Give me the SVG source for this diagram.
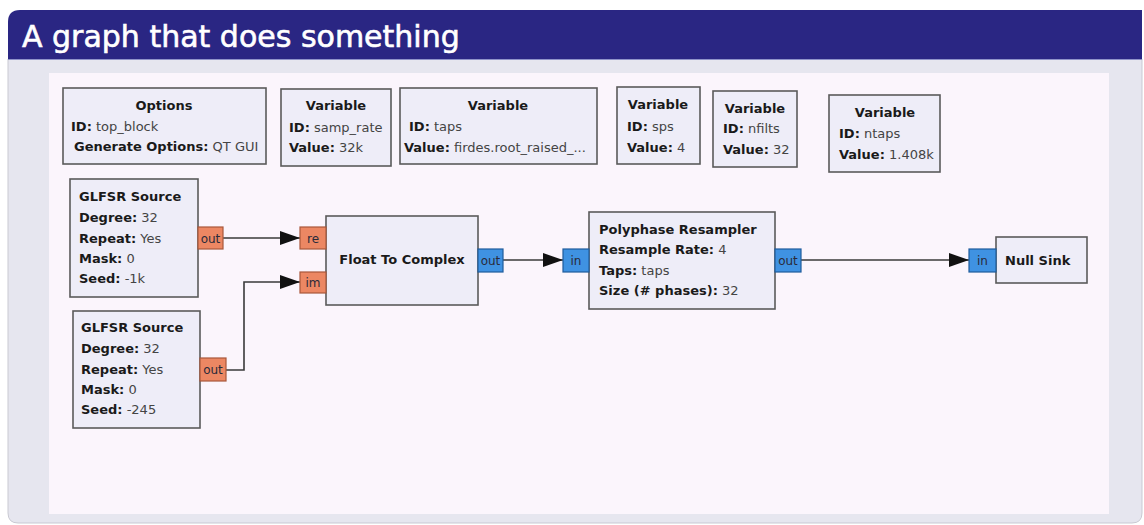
<svg xmlns="http://www.w3.org/2000/svg" width="1144" height="525" viewBox="0 0 1144 525">
  <defs>
    <style>
      .title { font-family: "DejaVu Sans", "Liberation Sans", sans-serif; font-size: 30px; fill: #ffffff; stroke: #ffffff; stroke-width: 0.6; }
      .blk { fill: #eeedf8; stroke: #5a5a5a; stroke-width: 1.6; }
      .t { font-family: "DejaVu Sans", "Liberation Sans", sans-serif; font-size: 13px; fill: #444444; }
      .b { font-weight: bold; fill: #1a1a1a; }
      .hd { font-weight: bold; fill: #1a1a1a; text-anchor: middle; }
      .pf { fill: #ec8763; stroke: #a9573b; stroke-width: 1.2; }
      .pc { fill: #3f92e2; stroke: #1f5c9c; stroke-width: 1.2; }
      .pt { font-family: "DejaVu Sans", "Liberation Sans", sans-serif; font-size: 12px; fill: #2a2a3a; text-anchor: middle; }
      .wire { fill: none; stroke: #3a3a3a; stroke-width: 1.6; }
    </style>
    <marker id="arrow" markerWidth="20" markerHeight="14" refX="20" refY="7" orient="auto" markerUnits="userSpaceOnUse">
      <path d="M0,0 L20,7 L0,14 Z" fill="#111111"/>
    </marker>
  </defs>

  <!-- page background and frame -->
  <rect x="0" y="0" width="1144" height="525" fill="#ffffff"/>
  <path d="M8,59 H1142 V513 Q1142,523 1132,523 H18 Q8,523 8,513 Z" fill="#e6e6ef" stroke="#c9c9d2" stroke-width="1"/>
  <rect x="49" y="73" width="1060" height="441" fill="#fbf5fc"/>

  <!-- title bar -->
  <path d="M8,59 V22 Q8,10 20,10 H1142 V59 Z" fill="#2a2683"/>
  <line x1="8" y1="59.5" x2="1142" y2="59.5" stroke="#8f93c9" stroke-width="1"/>
  <text class="title" x="22" y="47">A graph that does something</text>

  <!-- connectors -->
  <g id="connectors">
    <path class="wire" d="M223,238 H300" marker-end="url(#arrow)"/>
    <path class="wire" d="M226,370 H244 V282 H300" marker-end="url(#arrow)"/>
    <path class="wire" d="M503,260 H563" marker-end="url(#arrow)"/>
    <path class="wire" d="M801,260 H969" marker-end="url(#arrow)"/>
  </g>

  <!-- Options block -->
  <g id="options">
    <rect class="blk" x="63" y="88" width="203" height="76"/>
    <text class="t hd" x="164" y="110">Options</text>
    <text class="t" x="71" y="131"><tspan class="b">ID:</tspan> top_block</text>
    <text class="t" x="74" y="151"><tspan class="b">Generate Options:</tspan> QT GUI</text>
  </g>

  <!-- Variable blocks -->
  <g id="var_samp_rate">
    <rect class="blk" x="281" y="89" width="110" height="77"/>
    <text class="t hd" x="336" y="110">Variable</text>
    <text class="t" x="289" y="132"><tspan class="b">ID:</tspan> samp_rate</text>
    <text class="t" x="289" y="152"><tspan class="b">Value:</tspan> 32k</text>
  </g>

  <g id="var_taps">
    <rect class="blk" x="400" y="88" width="197" height="76"/>
    <text class="t hd" x="498" y="110">Variable</text>
    <text class="t" x="409" y="131"><tspan class="b">ID:</tspan> taps</text>
    <text class="t" x="404" y="152"><tspan class="b">Value:</tspan> firdes.root_raised_...</text>
  </g>

  <g id="var_sps">
    <rect class="blk" x="617" y="87" width="83" height="77"/>
    <text class="t hd" x="658" y="109">Variable</text>
    <text class="t" x="627" y="131"><tspan class="b">ID:</tspan> sps</text>
    <text class="t" x="627" y="152"><tspan class="b">Value:</tspan> 4</text>
  </g>

  <g id="var_nfilts">
    <rect class="blk" x="713" y="91" width="84" height="76"/>
    <text class="t hd" x="755" y="113">Variable</text>
    <text class="t" x="723" y="133"><tspan class="b">ID:</tspan> nfilts</text>
    <text class="t" x="723" y="154"><tspan class="b">Value:</tspan> 32</text>
  </g>

  <g id="var_ntaps">
    <rect class="blk" x="829" y="95" width="111" height="77"/>
    <text class="t hd" x="885" y="117">Variable</text>
    <text class="t" x="839" y="138"><tspan class="b">ID:</tspan> ntaps</text>
    <text class="t" x="839" y="159"><tspan class="b">Value:</tspan> 1.408k</text>
  </g>

  <!-- GLFSR sources -->
  <g id="glfsr_1">
    <rect class="blk" x="70" y="179" width="128" height="118"/>
    <text class="t b" x="79" y="201">GLFSR Source</text>
    <text class="t" x="79" y="222"><tspan class="b">Degree:</tspan> 32</text>
    <text class="t" x="79" y="243"><tspan class="b">Repeat:</tspan> Yes</text>
    <text class="t" x="79" y="263"><tspan class="b">Mask:</tspan> 0</text>
    <text class="t" x="79" y="283"><tspan class="b">Seed:</tspan> -1k</text>
    <rect class="pf" x="198" y="227" width="25" height="22"/>
    <text class="pt" x="210.5" y="242.5">out</text>
  </g>

  <g id="glfsr_2">
    <rect class="blk" x="73" y="311" width="127" height="117"/>
    <text class="t b" x="81" y="332">GLFSR Source</text>
    <text class="t" x="81" y="353"><tspan class="b">Degree:</tspan> 32</text>
    <text class="t" x="81" y="374"><tspan class="b">Repeat:</tspan> Yes</text>
    <text class="t" x="81" y="394"><tspan class="b">Mask:</tspan> 0</text>
    <text class="t" x="81" y="414"><tspan class="b">Seed:</tspan> -245</text>
    <rect class="pf" x="200" y="358" width="26" height="23"/>
    <text class="pt" x="213" y="374">out</text>
  </g>

  <!-- Float To Complex -->
  <g id="float_to_complex">
    <rect class="blk" x="326" y="216" width="152" height="89"/>
    <text class="t hd" x="402" y="264">Float To Complex</text>
    <rect class="pf" x="300" y="227" width="26" height="22"/>
    <text class="pt" x="313" y="242.5">re</text>
    <rect class="pf" x="300" y="272" width="26" height="21"/>
    <text class="pt" x="313" y="287">im</text>
    <rect class="pc" x="478" y="249" width="25" height="23"/>
    <text class="pt" x="490.5" y="265">out</text>
  </g>

  <!-- Polyphase Resampler -->
  <g id="polyphase_resampler">
    <rect class="blk" x="589" y="212" width="186" height="97"/>
    <text class="t b" x="599" y="234">Polyphase Resampler</text>
    <text class="t" x="599" y="254"><tspan class="b">Resample Rate:</tspan> 4</text>
    <text class="t" x="599" y="275"><tspan class="b">Taps:</tspan> taps</text>
    <text class="t" x="599" y="295"><tspan class="b">Size (# phases):</tspan> 32</text>
    <rect class="pc" x="563" y="249" width="26" height="23"/>
    <text class="pt" x="576" y="265">in</text>
    <rect class="pc" x="775" y="249" width="26" height="23"/>
    <text class="pt" x="788" y="265">out</text>
  </g>

  <!-- Null Sink -->
  <g id="null_sink">
    <rect class="blk" x="996" y="237" width="91" height="46"/>
    <text class="t b" x="1005" y="265">Null Sink</text>
    <rect class="pc" x="969" y="249" width="27" height="23"/>
    <text class="pt" x="982.5" y="265">in</text>
  </g>
</svg>
